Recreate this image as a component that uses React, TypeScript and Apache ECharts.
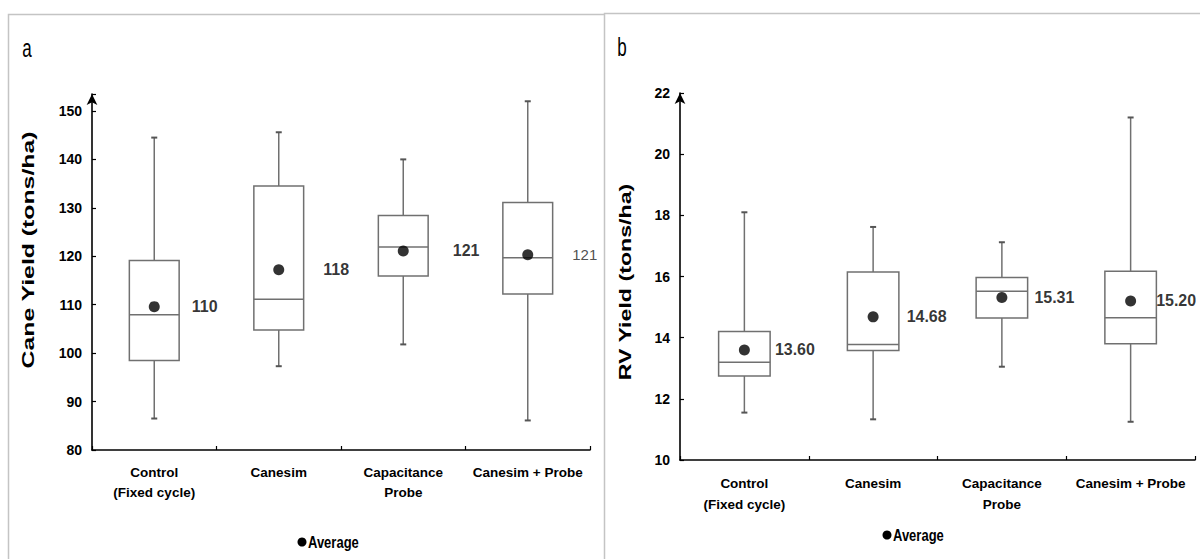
import React, { useEffect, useRef } from 'react';
import * as echarts from 'echarts';

const categories = ['Control\n(Fixed cycle)', 'Canesim', 'Capacitance\nProbe', 'Canesim + Probe'];

// Panel a: Cane yield (tons/ha)
const caneMin = [86.5, 97.3, 101.8, 86.1];
const caneQ1 = [98.5, 104.8, 115.9, 112.2];
const caneMedian = [107.9, 111.1, 121.9, 119.7];
const caneQ3 = [119.1, 134.5, 128.4, 131.1];
const caneMax = [144.5, 145.6, 140.0, 152.0];
const caneMean = [109.6, 117.2, 121.1, 120.3];
const caneMeanLabels = ['110', '118', '121', '121'];
const caneTicks = [80, 90, 100, 110, 120, 130, 140, 150];

// Panel b: RV yield (tons/ha)
const rvMin = [11.55, 11.33, 13.05, 11.25];
const rvQ1 = [12.75, 13.58, 14.64, 13.8];
const rvMedian = [13.2, 13.78, 15.52, 14.65];
const rvQ3 = [14.2, 16.15, 15.97, 16.17];
const rvMax = [18.1, 17.62, 17.12, 21.2];
const rvMean = [13.6, 14.68, 15.31, 15.2];
const rvMeanLabels = ['13.60', '14.68', '15.31', '15.20'];
const rvTicks = [10, 12, 14, 16, 18, 20, 22];

// label styling (not data)
const caneLabelDist = [32, 39, 44, 39];
const caneLabelBold = [true, true, true, false];
const rvLabelDist = [25, 28, 27, 20];

const FONT = '"Liberation Sans", Arial, sans-serif';
const BOX_COLOR = '#707070';

const renderBox = (params: any, api: any) => {
  const idx = api.value(0);
  const pMin = api.coord([idx, api.value(1)]);
  const pQ1 = api.coord([idx, api.value(2)]);
  const pMed = api.coord([idx, api.value(3)]);
  const pQ3 = api.coord([idx, api.value(4)]);
  const pMax = api.coord([idx, api.value(5)]);
  const bw = api.size([1, 0])[0] * 0.4;
  const x = pMin[0];
  const ls = { stroke: BOX_COLOR, lineWidth: 1.5 };
  const cap = { stroke: '#555', lineWidth: 2 };
  return {
    type: 'group',
    children: [
      { type: 'line', shape: { x1: x, y1: pMax[1], x2: x, y2: pQ3[1] }, style: ls },
      { type: 'line', shape: { x1: x, y1: pQ1[1], x2: x, y2: pMin[1] }, style: ls },
      { type: 'line', shape: { x1: x - 3, y1: pMax[1], x2: x + 3, y2: pMax[1] }, style: cap },
      { type: 'line', shape: { x1: x - 3, y1: pMin[1], x2: x + 3, y2: pMin[1] }, style: cap },
      {
        type: 'rect',
        shape: { x: x - bw / 2, y: pQ3[1], width: bw, height: pQ1[1] - pQ3[1] },
        style: { fill: '#fff', stroke: BOX_COLOR, lineWidth: 1.5 },
      },
      { type: 'line', shape: { x1: x - bw / 2, y1: pMed[1], x2: x + bw / 2, y2: pMed[1] }, style: ls },
    ],
  };
};

const boxData = (mn: number[], q1: number[], md: number[], q3: number[], mx: number[]) =>
  categories.map((_, i) => [i, mn[i], q1[i], md[i], q3[i], mx[i]]);

const xAxisCommon = (gridIndex: number, margin: number, lh: number) => ({
  type: 'category',
  gridIndex,
  data: categories,
  boundaryGap: true,
  axisLine: { lineStyle: { color: '#000', width: 1.6 } },
  axisTick: { show: true, inside: true, length: 4, alignWithLabel: false, lineStyle: { color: '#000', width: 1.2 } },
  axisLabel: { color: '#000', fontFamily: FONT, fontWeight: 'bold', fontSize: 13.5, margin, lineHeight: lh, interval: 0 },
  splitLine: { show: false },
});

const yAxisCommon = (gridIndex: number, min: number, max: number, interval: number, ticks: number[]) => ({
  type: 'value',
  gridIndex,
  min,
  max,
  interval,
  axisLine: { show: true, symbol: ['none', 'arrow'], symbolSize: [8, 11], lineStyle: { color: '#000', width: 1.6 } },
  axisTick: { show: true, inside: true, length: 4, lineStyle: { color: '#000', width: 1.2 } },
  axisLabel: {
    color: '#000', fontFamily: FONT, fontWeight: 'bold', fontSize: 14, margin: 10,
    formatter: (v: number) => (ticks.includes(v) ? String(v) : ''),
  },
  splitLine: { show: false },
});

const meanSeries = (axis: number, means: number[], labels: string[], dist: number[], bold: boolean[]) => ({
  type: 'scatter',
  name: 'Average',
  xAxisIndex: axis,
  yAxisIndex: axis,
  symbol: 'circle',
  symbolSize: 11,
  itemStyle: { color: '#000' },
  z: 5,
  data: categories.map((c, i) => ({
    value: [i, means[i]],
    label: {
      show: true,
      position: 'right',
      distance: dist[i],
      formatter: labels[i],
      color: bold[i] ? '#000' : '#222',
      fontFamily: FONT,
      fontWeight: bold[i] ? 'bold' : 'normal',
      fontSize: bold[i] ? 16 : 15,
    },
  })),
});

export default function App() {
  const ref = useRef<HTMLDivElement>(null);
  useEffect(() => {
    if (!ref.current) return;
    const chart = echarts.init(ref.current, undefined, { renderer: 'svg' });
    const option: any = {
      animation: false,
      backgroundColor: '#fff',
      grid: [
        { left: 92, right: 610, top: 94, bottom: 109 },
        { left: 680, right: 5, top: 93, bottom: 99 },
      ],
      xAxis: [xAxisCommon(0, 12, 20), xAxisCommon(1, 13, 21)],
      yAxis: [yAxisCommon(0, 80, 153.5, 10, caneTicks), yAxisCommon(1, 10, 22, 2, rvTicks)],
      series: [
        {
          type: 'custom',
          xAxisIndex: 0,
          yAxisIndex: 0,
          renderItem: renderBox,
          encode: { x: 0, y: [1, 2, 3, 4, 5] },
          data: boxData(caneMin, caneQ1, caneMedian, caneQ3, caneMax),
          z: 2,
        },
        {
          type: 'custom',
          xAxisIndex: 1,
          yAxisIndex: 1,
          renderItem: renderBox,
          encode: { x: 0, y: [1, 2, 3, 4, 5] },
          data: boxData(rvMin, rvQ1, rvMedian, rvQ3, rvMax),
          z: 2,
        },
        meanSeries(0, caneMean, caneMeanLabels, caneLabelDist, caneLabelBold),
        meanSeries(1, rvMean, rvMeanLabels, rvLabelDist, [true, true, true, true]),
      ],
      graphic: [
        { type: 'polyline', shape: { points: [[8.5, 560], [8.5, 14.5], [604, 14.5]] }, style: { stroke: '#c4c4c4', lineWidth: 1.5, fill: null } },
        { type: 'polyline', shape: { points: [[604.5, 560], [604.5, 13.5], [1201, 13.5]] }, style: { stroke: '#c4c4c4', lineWidth: 1.5, fill: null } },
        { type: 'text', x: 27, y: 48, scaleY: 1.5, style: { text: 'a', fontFamily: FONT, fontSize: 17, fill: '#000', align: 'center', verticalAlign: 'middle' } },
        { type: 'text', x: 622, y: 47, scaleY: 1.5, style: { text: 'b', fontFamily: FONT, fontSize: 17, fill: '#000', align: 'center', verticalAlign: 'middle' } },
        {
          type: 'text', x: 28.5, y: 250, rotation: Math.PI / 2, scaleX: 1.55,
          style: { text: 'Cane Yield (tons/ha)', fontFamily: FONT, fontWeight: 'bold', fontSize: 16, fill: '#000', align: 'center', verticalAlign: 'middle' },
        },
        {
          type: 'text', x: 625, y: 282, rotation: Math.PI / 2, scaleX: 1.45,
          style: { text: 'RV Yield (tons/ha)', fontFamily: FONT, fontWeight: 'bold', fontSize: 16, fill: '#000', align: 'center', verticalAlign: 'middle' },
        },
        { type: 'circle', shape: { cx: 302, cy: 542, r: 4.5 }, style: { fill: '#000' } },
        { type: 'text', x: 308, y: 542, scaleY: 1.25, style: { text: 'Average', fontFamily: FONT, fontWeight: 'bold', fontSize: 13, fill: '#000', align: 'left', verticalAlign: 'middle' } },
        { type: 'circle', shape: { cx: 887, cy: 535, r: 4.5 }, style: { fill: '#000' } },
        { type: 'text', x: 893, y: 535, scaleY: 1.25, style: { text: 'Average', fontFamily: FONT, fontWeight: 'bold', fontSize: 13, fill: '#000', align: 'left', verticalAlign: 'middle' } },
      ],
    };
    chart.setOption(option);
    return () => chart.dispose();
  }, []);
  return <div ref={ref} style={{ position: 'absolute', left: 0, top: 0, width: 1200, height: 559 }} />;
}
